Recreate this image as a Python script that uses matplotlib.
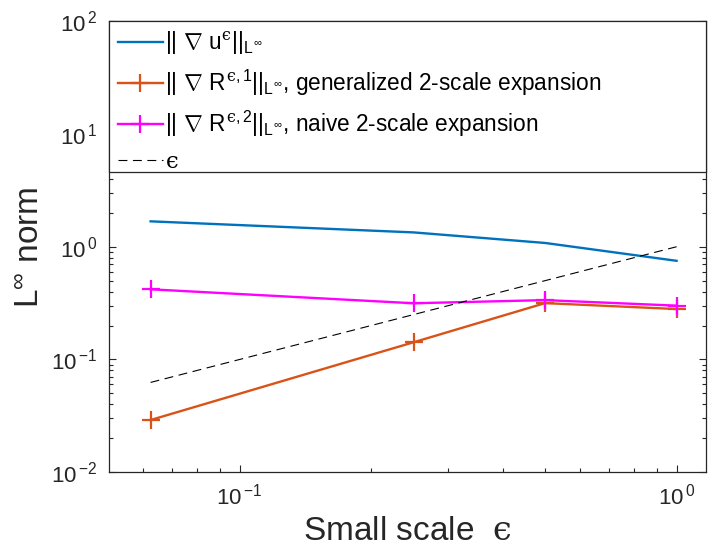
import matplotlib
matplotlib.use("Agg")
import matplotlib.pyplot as plt
from matplotlib.patches import Rectangle
from matplotlib.ticker import LogLocator, NullFormatter, FuncFormatter
import numpy as np

# data
eps = [1 / 16, 1 / 4, 1 / 2, 1]
grad_u = [1.68, 1.34, 1.08, 0.75]
grad_r1 = [0.029, 0.142, 0.316, 0.28]   # generalized 2-scale expansion
grad_r2 = [0.419, 0.315, 0.336, 0.30]   # naive 2-scale expansion
ref_eps = eps                            # slope-1 reference line

plt.rcParams["font.family"] = ["Liberation Sans", "DejaVu Sans"]
plt.rcParams["mathtext.fontset"] = "custom"
plt.rcParams["mathtext.rm"] = "Liberation Sans"
plt.rcParams["mathtext.it"] = "Liberation Sans"
plt.rcParams["mathtext.bf"] = "Liberation Sans:bold"
plt.rcParams["mathtext.sf"] = "Liberation Sans"
plt.rcParams["mathtext.cal"] = "DejaVu Serif"
plt.rcParams["mathtext.fallback"] = "cm"

dark = "#262626"
EPS = "\\mathcal{\u03f5}"   # lunate epsilon, like the MATLAB tex one

fig = plt.figure(figsize=(7.08, 5.5), dpi=100)
ax = fig.add_axes([0.154, 0.1416, 0.843, 0.8196])

ax.plot(eps, grad_u, color="#0072BD", lw=1.7,
        label=r"$||\ \nabla\ u^{%s}||_{L^{\infty}}$" % EPS)
ax.plot(eps, grad_r1, color="#D95319", lw=1.7, marker="+", ms=13, mew=1.6,
        label=r"$||\ \nabla\ R^{%s,1}||_{L^{\infty}}$, generalized 2-scale expansion" % EPS)
ax.plot(eps, grad_r2, color="#FF00FF", lw=1.7, marker="+", ms=13, mew=1.6,
        label=r"$||\ \nabla\ R^{%s,2}||_{L^{\infty}}$, naive 2-scale expansion" % EPS)
ax.plot(eps, ref_eps, color="black", lw=0.8, linestyle=(0, (8, 5)),
        label=r"$%s$" % EPS)

ax.set_xscale("log")
ax.set_yscale("log")
ax.set_xlim(0.0502, 1.167)
ax.set_ylim(1e-2, 1e2)


def pow_label(v, pos):
    e = int(np.round(np.log10(v)))
    return r"$\mathregular{10}^{\:\mathregular{%d}}$" % e


ax.xaxis.set_major_locator(LogLocator(base=10))
ax.yaxis.set_major_locator(LogLocator(base=10))
ax.xaxis.set_minor_locator(LogLocator(base=10, subs=range(2, 10)))
ax.yaxis.set_minor_locator(LogLocator(base=10, subs=range(2, 10)))
ax.xaxis.set_major_formatter(FuncFormatter(pow_label))
ax.yaxis.set_major_formatter(FuncFormatter(pow_label))
ax.xaxis.set_minor_formatter(NullFormatter())
ax.yaxis.set_minor_formatter(NullFormatter())

ax.tick_params(which="both", direction="in", top=True, right=True,
               color=dark, labelcolor=dark, labelsize=16, width=0.8)
ax.tick_params(which="major", length=5)
ax.tick_params(which="minor", length=3)
ax.tick_params(axis="x", which="major", pad=8)
ax.tick_params(axis="y", which="major", pad=8)
for s in ax.spines.values():
    s.set_color(dark)
    s.set_linewidth(0.9)

ax.set_xlabel(r"Small scale  $%s$" % EPS, fontsize=24, color=dark, labelpad=5)
ax.set_ylabel(r"L$^{\infty}$ norm", fontsize=24, color=dark, labelpad=4)

# legend box spans the full axes width, drawn as a patch behind the legend
box_bottom = 0.6664
ax.add_patch(Rectangle((0, box_bottom), 1, 1 - box_bottom, transform=ax.transAxes,
                       facecolor="white", edgecolor=dark, lw=0.9, zorder=4,
                       clip_on=False))
leg = ax.legend(loc="upper left", bbox_to_anchor=(0, 1), borderaxespad=0,
                fontsize=16.3, handlelength=2.0, handletextpad=0.1,
                labelspacing=0.48, borderpad=0.38, frameon=False)
leg.set_zorder(5)

fig.savefig("out.png", dpi=100)
